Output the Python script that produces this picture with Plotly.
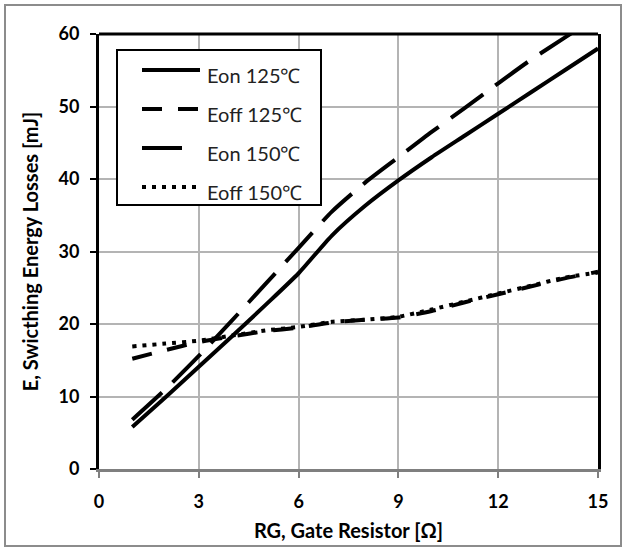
import plotly.graph_objects as go

# ---- data ----
rg = [1, 2, 3, 4, 5, 6, 7, 8, 9, 10, 11, 12, 13, 14, 15]
eon_125 = [5.8, 9.9, 14.1, 18.3, 22.6, 27.0, 32.2, 36.3, 39.8, 43.0, 46.0, 49.0, 52.0, 55.0, 58.0]
eoff_125 = [15.2, 16.4, 17.5, 18.3, 19.0, 19.5, 20.2, 20.6, 20.9, 21.8, 23.0, 24.1, 25.2, 26.3, 27.2]
eon_150 = [6.8, 11.0, 15.6, 20.5, 25.5, 30.5, 35.5, 39.5, 43.0, 46.5, 49.8, 53.2, 56.5, 59.5, 62.5]
eoff_150 = [16.9, 17.3, 17.7, 18.4, 19.1, 19.6, 20.3, 20.6, 21.0, 22.0, 23.1, 24.2, 25.3, 26.4, 27.1]

series_names = ["Eon 125℃", "Eoff 125℃", "Eon 150℃", "Eoff 150℃"]
x_ticks = [0, 3, 6, 9, 12, 15]
y_ticks = [0, 10, 20, 30, 40, 50, 60]

FONT = "Lato, 'Open Sans', sans-serif"
dashes = ["solid", "20px,16px", "40px,15px", "4px,6px"]
series = [eon_125, eoff_125, eon_150, eoff_150]

fig = go.Figure()
for name, ys, dash in zip(series_names, series, dashes):
    fig.add_trace(go.Scatter(
        x=rg, y=ys, name=name, mode="lines",
        line=dict(color="black", width=4, dash=dash, shape="spline", smoothing=0.6),
        showlegend=False,
    ))

# plot-area pixel geometry
L, R, T, B = 99, 598, 34, 469
W, H = 625, 547
pw, ph = R - L, B - T

def px(x):
    return (x - L) / pw

def py(y):
    return (B - y) / ph

shapes = []
# outer chart border
shapes.append(dict(type="rect", xref="paper", yref="paper",
                   x0=px(5), x1=px(621), y0=py(546), y1=py(5),
                   line=dict(color="#8c8c8c", width=2), layer="below"))
# top border of plot area
shapes.append(dict(type="line", xref="paper", yref="paper",
                   x0=0, x1=1, y0=1, y1=1, line=dict(color="black", width=3)))
# legend box
shapes.append(dict(type="rect", xref="paper", yref="paper",
                   x0=px(117), x1=px(321), y0=py(205), y1=py(50),
                   line=dict(color="black", width=2), fillcolor="white", layer="above"))

rows = [70, 109, 148, 187]
line_ends = [200, 198, 183, 200]
annotations = []
for name, dash, ry, xe in zip(series_names, dashes, rows, line_ends):
    shapes.append(dict(type="line", xref="paper", yref="paper",
                       x0=px(142), x1=px(xe), y0=py(ry), y1=py(ry),
                       line=dict(color="black", width=4, dash=dash)))
    annotations.append(dict(xref="paper", yref="paper", x=px(205), y=py(ry + 5),
                            xanchor="left", yanchor="middle", showarrow=False,
                            text=name, font=dict(family=FONT, size=20, color="#222222")))

fig.update_layout(
    width=W, height=H,
    margin=dict(l=L, r=W - R, t=T, b=H - B, autoexpand=False),
    paper_bgcolor="white", plot_bgcolor="white",
    shapes=shapes, annotations=annotations,
    font=dict(family=FONT, color="black"),
)
fig.update_xaxes(
    range=[0, 15], tickvals=x_ticks, ticktext=[str(v) for v in x_ticks],
    automargin=False,
    showgrid=True, gridcolor="#b4b4b4", gridwidth=2, zeroline=False,
    showline=True, linecolor="#7f7f7f", linewidth=3,
    ticks="outside", ticklen=6, tickwidth=2, tickcolor="#7f7f7f",
    ticklabelstandoff=8,
    tickfont=dict(family=FONT, size=18, color="black", weight="bold"),
    title=dict(text="RG, Gate Resistor [Ω]", font=dict(family=FONT, size=20, weight="bold"), standoff=14),
)
fig.update_yaxes(
    range=[0, 60], tickvals=y_ticks, ticktext=[str(v) for v in y_ticks],
    automargin=False,
    showgrid=True, gridcolor="#b4b4b4", gridwidth=2, zeroline=False,
    showline=True, linecolor="black", linewidth=3, mirror=True,
    ticks="outside", ticklen=6, tickwidth=2, tickcolor="black",
    ticklabelstandoff=7,
    tickfont=dict(family=FONT, size=18, color="black", weight="bold"),
    title=dict(text="E, Swicthing Energy Losses [mJ]", font=dict(family=FONT, size=20, weight="bold"), standoff=15),
)

fig.write_html("out.html", config={"displayModeBar": False},
               post_script="document.body.style.margin='0px';")
